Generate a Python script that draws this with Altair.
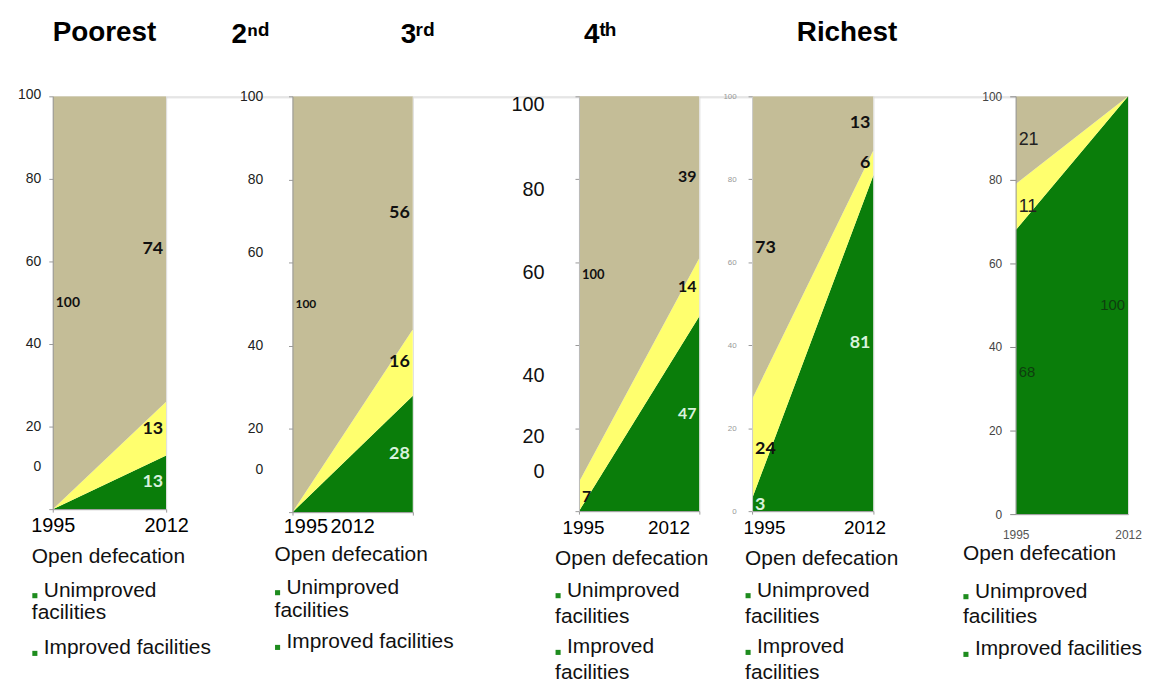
import altair as alt
import pandas as pd

# ---------------- data ----------------
years = [1995, 2012]
categories = ["Improved facilities", "Unimproved facilities", "Open defecation"]
panel_titles = ["Poorest", "2ⁿᵈ", "3ʳᵈ", "4ᵗʰ", "Richest"]
y_ticks = [0, 20, 40, 60, 80, 100]

poorest_improved = [0, 13]
poorest_unimproved = [0, 13]
poorest_open = [100, 74]

second_improved = [0, 28]
second_unimproved = [0, 16]
second_open = [100, 56]

third_improved = [0, 47]
third_unimproved = [7, 14]
third_open = [100, 39]

fourth_improved = [3, 81]
fourth_unimproved = [24, 6]
fourth_open = [73, 13]

richest_improved = [68, 100]
richest_unimproved = [11, 0]
richest_open = [21, 0]

legend_open = "Open defecation"
legend_unimproved = ["Unimproved", "facilities"]
legend_improved_one = ["Improved facilities"]
legend_improved_two = ["Improved", "facilities"]

area_colors = ["#0A7D0A", "#FFFF6E", "#C4BD97"]
FONT = "Liberation Sans"


def build_frame(improved, unimproved, open_):
    rows = []
    for i, yr in enumerate(years):
        lo = 0
        for k, vals in enumerate([improved, unimproved, open_]):
            v = vals[i]
            rows.append(dict(year=yr, cat=categories[k], rank=k, value=v,
                             lo=lo, hi=lo + v, mid=lo + v / 2))
            lo += v
    return pd.DataFrame(rows)


def cond(offsets, default=0):
    if not offsets:
        return default
    conds = [{"test": f"datum.value === {k}", "value": v} for k, v in offsets.items()]
    return {"condition": conds if len(conds) > 1 else conds[0], "value": default}


def panel(title, tdx, toff, improved, unimproved, open_, w, h, yax, xax, lab,
          leg_x, leg_lines):
    df = build_frame(improved, unimproved, open_)
    xs = alt.Scale(domain=[1995, 2012], nice=False, zero=False)
    ys = alt.Scale(domain=[0, 100], nice=False)

    x_axis = alt.Axis(values=years, format="d", title=None, grid=False,
                      labelFont=FONT, labelFontSize=xax["size"],
                      labelColor=xax.get("color", "#000"),
                      labelPadding=xax.get("pad", 3), tickSize=xax.get("tick", 3),
                      tickColor="#999", domainColor=xax.get("domain", "#999"),
                      labelOffset=cond(xax.get("off")), labelFlush=False,
                      labelOverlap=False, zindex=1)
    y_axis = alt.Axis(values=y_ticks, title=None, grid=False,
                      labelFont=FONT, labelFontSize=yax["size"],
                      labelColor=yax.get("color", "#222"),
                      labelPadding=yax.get("pad", 8), tickSize=yax.get("tick", 4),
                      tickColor=yax.get("tickc", "#999"),
                      domainColor=yax.get("domain", "#999"),
                      labelOffset=cond(yax.get("off")), labelFlush=False,
                      labelOverlap=False, zindex=1)

    area = alt.Chart(df).mark_area(clip=True, interpolate="linear").encode(
        x=alt.X("year:Q", scale=xs, axis=x_axis, title=None),
        y=alt.Y("lo:Q", scale=ys, axis=y_axis, stack=None, title=None),
        y2="hi:Q",
        color=alt.Color("cat:N", scale=alt.Scale(domain=categories, range=area_colors),
                        legend=None),
        order="rank:Q",
    )

    layers = [area]
    labdf = df[df["value"] > 0]
    for yr, align, dx in [(1995, "left", 3), (2012, "right", -3)]:
        sub = labdf[labdf["year"] == yr]
        if len(sub) == 0:
            continue
        t = alt.Chart(sub).mark_text(
            align=align, baseline="middle", dx=dx, font=lab["font"],
            fontWeight=lab["weight"]
        ).encode(
            x=alt.X("year:Q", scale=xs, title=None),
            y=alt.Y("mid:Q", scale=ys, title=None),
            text="value:Q",
            color=alt.condition("datum.cat === 'Improved facilities'",
                                alt.value(lab["cimp"]), alt.value(lab["cmain"])),
            size=alt.condition(lab["small_test"], alt.value(lab["small"]),
                               alt.value(lab["big"])),
        )
        layers.append(t)

    one = pd.DataFrame({"k": [0]})
    for text, py, square in leg_lines:
        px = leg_x + (12 if square else 0)
        layers.append(alt.Chart(pd.DataFrame({"t": [text]})).mark_text(
            align="left", baseline="middle", font=FONT, fontSize=21, color="#111"
        ).encode(text="t:N", x=alt.value(px), y=alt.value(py)))
        if square:
            layers.append(alt.Chart(one).mark_square(
                size=26, color="#1E8C1E", opacity=1
            ).encode(x=alt.value(leg_x + 3), y=alt.value(py + 5)))

    return alt.layer(*layers).properties(
        width=w, height=h,
        title=alt.TitleParams(title, fontSize=28, font=FONT, fontWeight="bold",
                              anchor="middle", dx=tdx, offset=toff, baseline="bottom",
                              frame="group", color="#000"),
    )


def legend_lines_single(top_open, top_u1, top_u2, top_i):
    return [
        (legend_open, top_open, False),
        (legend_unimproved[0], top_u1, True),
        (legend_unimproved[1], top_u2, False),
        (legend_improved_one[0], top_i, True),
    ]


def legend_lines_double(top_open, top_u1, top_u2, top_i1, top_i2):
    return [
        (legend_open, top_open, False),
        (legend_unimproved[0], top_u1, True),
        (legend_unimproved[1], top_u2, False),
        (legend_improved_two[0], top_i1, True),
        (legend_improved_two[1], top_i2, False),
    ]


bold_lab = dict(font="Lato", weight="bold", cimp="#D8F2DC", cmain="#111",
                small_test="datum.value === 100", small=14, big=18)

p1 = panel(panel_titles[0], -5, 13, poorest_improved, poorest_unimproved, poorest_open,
           114, 415,
           dict(size=14, pad=8, off={0: -43, 100: -2}),
           dict(size=20, pad=3),
           bold_lab, -21, legend_lines_single(463, 497, 519, 555))

p2 = panel(panel_titles[1], -103, 13, second_improved, second_unimproved, second_open,
           121, 418,
           dict(size=14, pad=26, off={0: -43, 60: -10}),
           dict(size=20, pad=1, off={1995: 13, 2012: -61}),
           dict(bold_lab, small=12), -18, legend_lines_single(461, 494, 517, 549))

p3 = panel(panel_titles[2], -223, 18, third_improved, third_unimproved, third_open,
           121, 417,
           dict(size=20, pad=31, color="#111", domain="#bbb",
                off={100: 8, 80: 10, 60: 10, 40: 30, 20: 8, 0: -40}),
           dict(size=19, pad=4, off={1995: 4, 2012: -31}),
           dict(bold_lab, small=13, big=16), -24,
           legend_lines_double(465, 497, 523, 554, 580))

p4 = panel(panel_titles[3], -214, 16, fourth_improved, fourth_unimproved, fourth_open,
           122, 417,
           dict(size=8, pad=12, color="#999", domain="#ccc"),
           dict(size=19, pad=4, off={1995: 12, 2012: -9}),
           dict(bold_lab, big=18), -7,
           legend_lines_double(465, 497, 523, 554, 580))

p5 = panel(panel_titles[4], -226, 16, richest_improved, richest_unimproved, richest_open,
           113, 420,
           dict(size=12, pad=8, tick=6, color="#444", tickc="#888"),
           dict(size=12, pad=16, tick=0, color="#555"),
           dict(font=FONT, weight="normal", cimp="#0E3E0E", cmain="#222",
                small_test="datum.cat === 'Improved facilities'", small=15, big=18),
           -53, legend_lines_single(460, 498, 523, 556))


def spacer(w):
    return alt.Chart(pd.DataFrame({"s": [0]})).mark_point(opacity=0).encode(
        x=alt.value(0), y=alt.value(0)).properties(width=w, height=1)


chart = alt.hconcat(p1, spacer(127), p2, spacer(167), p3, spacer(53), p4,
                    spacer(143), p5, spacing=0, bounds="flush").properties(
    padding={"left": 9, "top": 8, "right": 0, "bottom": 0},
).configure_view(stroke=None).configure(font=FONT)

chart.save("out.html", embed_options={"renderer": "svg", "actions": False})
